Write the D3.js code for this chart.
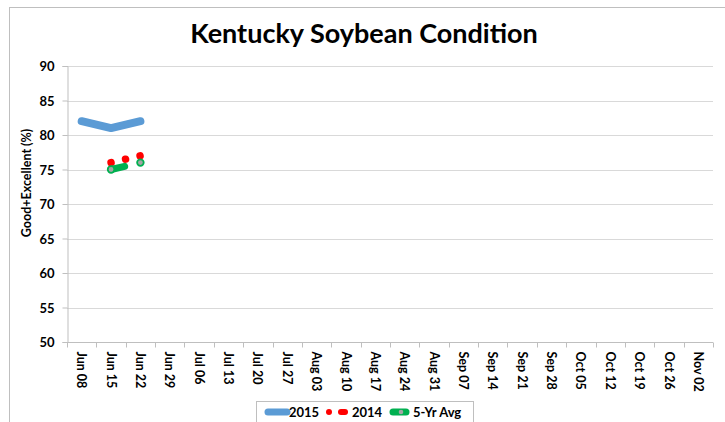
<!DOCTYPE html>
<html>
<head>
<meta charset="utf-8">
<script src="https://cdn.jsdelivr.net/npm/d3@7"></script>
<style>
  body { margin: 0; background: #fff; }
  text { font-family: Lato, "Open Sans", sans-serif; font-weight: bold; fill: #000; }
</style>
</head>
<body>
<div id="chart"></div>
<script>

// weeks on the x axis
const weeks = ['Jun 08', 'Jun 15', 'Jun 22', 'Jun 29', 'Jul 06', 'Jul 13', 'Jul 20', 'Jul 27',
    'Aug 03', 'Aug 10', 'Aug 17', 'Aug 24', 'Aug 31', 'Sep 07', 'Sep 14', 'Sep 21', 'Sep 28',
    'Oct 05', 'Oct 12', 'Oct 19', 'Oct 26', 'Nov 02'];

// good+excellent, percent (null = not reported)
const cond2015 = [82, 81, 82];
const cond2014 = [null, 76, 77];
const condAvg = [null, 75, 76];

const yTicks = [50, 55, 60, 65, 70, 75, 80, 85, 90];

const width = 725;
const height = 422;
const margin = {top: 66, right: 12, bottom: 80, left: 67};

const svg = d3.select('#chart')
    .append('svg')
    .attr('width', width)
    .attr('height', height);

// outer chart frame
svg.append('rect')
    .attr('x', 9.5)
    .attr('y', 7.5)
    .attr('width', 740)
    .attr('height', 440)
    .attr('fill', 'none')
    .attr('stroke', '#bfbfbf');

svg.append('text')
    .attr('x', 364)
    .attr('y', 43)
    .attr('text-anchor', 'middle')
    .style('font-size', '27px')
    .text('Kentucky Soybean Condition');

const x = d3.scaleBand()
    .domain(weeks)
    .range([margin.left, width - margin.right]);

const y = d3.scaleLinear()
    .domain([50, 90])
    .range([height - margin.bottom, margin.top]);

// gridlines
svg.append('g')
    .selectAll('line')
    .data(yTicks.slice(1))
    .enter()
    .append('line')
    .attr('x1', margin.left)
    .attr('x2', width - margin.right)
    .attr('y1', d => Math.round(y(d)) + 0.5)
    .attr('y2', d => Math.round(y(d)) + 0.5)
    .attr('stroke', '#d9d9d9');

// y axis
const yAxis = svg.append('g')
    .attr('transform', `translate(${margin.left + 0.5}, 0)`)
    .call(d3.axisLeft(y).tickValues(yTicks).tickSize(5).tickPadding(8));
yAxis.selectAll('line, path').attr('stroke', '#bfbfbf');
yAxis.selectAll('text').style('font-size', '13px').attr('dy', '0.35em');

// x axis, ticks between the categories
const xAxis = svg.append('g')
    .attr('transform', `translate(0, ${y(50) + 0.5})`);
xAxis.append('line')
    .attr('x1', margin.left)
    .attr('x2', width - margin.right)
    .attr('stroke', '#bfbfbf');
xAxis.selectAll('.tick')
    .data(weeks.concat(['end']))
    .enter()
    .append('line')
    .attr('x1', (d, i) => Math.round(margin.left + i * x.step()) + 0.5)
    .attr('x2', (d, i) => Math.round(margin.left + i * x.step()) + 0.5)
    .attr('y2', 5)
    .attr('stroke', '#bfbfbf');
xAxis.selectAll('text')
    .data(weeks)
    .enter()
    .append('text')
    .attr('transform', d => `translate(${x(d) + x.bandwidth() / 2}, 9) rotate(90)`)
    .attr('dy', '0.35em')
    .style('font-size', '12.5px')
    .text(d => d);

// y axis title
svg.append('text')
    .attr('transform', 'translate(31, 183) rotate(-90)')
    .attr('text-anchor', 'middle')
    .style('font-size', '12.5px')
    .text('Good+Excellent (%)');

const line = d3.line()
    .defined(d => d != null)
    .x((d, i) => x(weeks[i]) + x.bandwidth() / 2)
    .y(d => y(d));

// 2015
svg.append('path')
    .datum(cond2015)
    .attr('d', line)
    .attr('fill', 'none')
    .attr('stroke', '#5b9bd5')
    .attr('stroke-width', 8)
    .attr('stroke-linecap', 'round')
    .attr('stroke-linejoin', 'round');

// 2014, round dot line
const p2014 = svg.append('path')
    .datum(cond2014)
    .attr('d', line)
    .attr('fill', 'none')
    .attr('stroke', '#ff0000')
    .attr('stroke-width', 7.5)
    .attr('stroke-linecap', 'round');
const len2014 = p2014.node().getTotalLength();
p2014.attr('stroke-dasharray', `0.01, ${len2014 / 2 - 0.2}`);

// 5-yr average, dashed with markers
svg.append('path')
    .datum(condAvg)
    .attr('d', line)
    .attr('fill', 'none')
    .attr('stroke', '#00b050')
    .attr('stroke-width', 7)
    .attr('stroke-linecap', 'round')
    .attr('stroke-dasharray', '14, 40');

svg.append('g')
    .selectAll('circle')
    .data(condAvg.map((v, i) => ({v, i})).filter(d => d.v != null))
    .enter()
    .append('circle')
    .attr('cx', d => x(weeks[d.i]) + x.bandwidth() / 2)
    .attr('cy', d => y(d.v))
    .attr('r', 3.3)
    .attr('fill', '#a5a5a5')
    .attr('stroke', '#00b050')
    .attr('stroke-width', 1.8);

// legend
const legend = svg.append('g');
legend.append('rect')
    .attr('x', 256.5)
    .attr('y', 401.5)
    .attr('width', 217)
    .attr('height', 40)
    .attr('fill', '#fff')
    .attr('stroke', '#bfbfbf');

legend.append('line')
    .attr('x1', 268).attr('x2', 287)
    .attr('y1', 412).attr('y2', 412)
    .attr('stroke', '#5b9bd5')
    .attr('stroke-width', 7)
    .attr('stroke-linecap', 'round');
legend.append('text').attr('x', 289).attr('y', 412).attr('dy', '0.35em')
    .style('font-size', '13px').text('2015');

legend.append('line')
    .attr('x1', 329).attr('x2', 344)
    .attr('y1', 412).attr('y2', 412)
    .attr('stroke', '#ff0000')
    .attr('stroke-width', 6)
    .attr('stroke-linecap', 'round')
    .attr('stroke-dasharray', '0, 15');
legend.append('line')
    .attr('x1', 341).attr('x2', 345)
    .attr('y1', 412).attr('y2', 412)
    .attr('stroke', '#ff0000')
    .attr('stroke-width', 6)
    .attr('stroke-linecap', 'round');
legend.append('text').attr('x', 352).attr('y', 412).attr('dy', '0.35em')
    .style('font-size', '13px').text('2014');

legend.append('line')
    .attr('x1', 393).attr('x2', 406)
    .attr('y1', 412).attr('y2', 412)
    .attr('stroke', '#00b050')
    .attr('stroke-width', 7)
    .attr('stroke-linecap', 'round');
legend.append('circle')
    .attr('cx', 401).attr('cy', 412).attr('r', 2.3)
    .attr('fill', '#a5a5a5');
legend.append('text').attr('x', 413).attr('y', 412).attr('dy', '0.35em')
    .style('font-size', '13px').text('5-Yr Avg');

</script>
</body>
</html>
